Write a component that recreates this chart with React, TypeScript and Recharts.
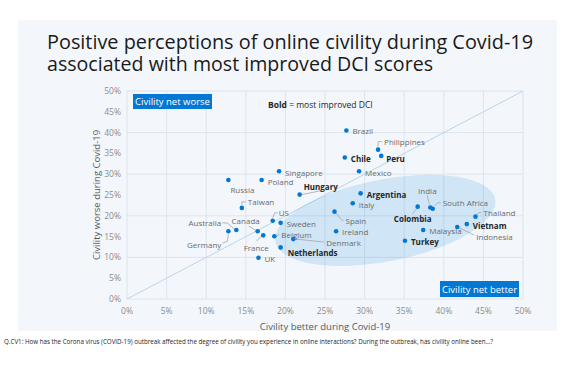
import React from 'react';
import { ScatterChart, Scatter, XAxis, YAxis, CartesianGrid, ReferenceLine, ReferenceDot } from 'recharts';

const countries = [
  'Brazil', 'Philippines', 'Chile', 'Peru', 'Mexico', 'Argentina', 'Italy', 'India',
  'South Africa', 'Colombia', 'Thailand', 'Vietnam', 'Indonesia', 'Malaysia', 'Turkey',
  'Spain', 'Ireland', 'Denmark', 'Netherlands', 'Belgium', 'Sweden', 'US', 'Canada',
  'France', 'Australia', 'Germany', 'UK', 'Taiwan', 'Russia', 'Poland', 'Singapore', 'Hungary',
];
const civilityBetter = [
  27.7, 31.7, 27.5, 32.1, 29.3, 29.5, 28.5, 38.3,
  38.6, 36.7, 44.0, 42.9, 41.7, 37.4, 35.1,
  26.2, 26.4, 21.0, 19.4, 18.6, 19.4, 18.4, 16.5,
  17.2, 13.8, 12.8, 16.6, 14.5, 12.8, 17.0, 19.2, 21.8,
];
const civilityWorse = [
  40.5, 35.9, 34.0, 34.4, 30.7, 25.4, 23.0, 22.0,
  21.7, 22.2, 19.8, 18.0, 17.3, 16.6, 14.0,
  21.0, 16.3, 14.4, 12.4, 15.1, 18.3, 18.8, 16.3,
  15.3, 16.6, 16.3, 9.9, 21.9, 28.6, 28.6, 30.7, 25.1,
];
const boldCountries = ['Chile', 'Peru', 'Hungary', 'Argentina', 'Colombia', 'Vietnam', 'Turkey', 'Netherlands'];
const axisTicks = [0, 5, 10, 15, 20, 25, 30, 35, 40, 45, 50];

const data = countries.map((name, i) => ({
  name,
  x: civilityBetter[i],
  y: civilityWorse[i],
  bold: boldCountries.includes(name),
}));

type LabelLayout = { dx: number; dy: number; anchor?: 'start' | 'middle' | 'end'; leader?: number[][] };
const LABEL_LAYOUT: Record<string, LabelLayout> = {
  Brazil: { dx: 6, dy: 0 },
  Philippines: { dx: 6, dy: -8, leader: [[0, -3], [0, -8], [4, -8]] },
  Chile: { dx: 6, dy: 1 },
  Peru: { dx: 5, dy: 3 },
  Mexico: { dx: 6, dy: 1 },
  Argentina: { dx: 6, dy: 1 },
  Italy: { dx: 6, dy: 1 },
  India: { dx: -3, dy: -17, anchor: 'middle', leader: [[-3, -12], [-1, -3]] },
  'South Africa': { dx: 10, dy: -6, leader: [[2, -3], [5, -6], [8, -6]] },
  Colombia: { dx: -5, dy: 12, anchor: 'middle', leader: [[-1, 2], [-5, 7]] },
  Thailand: { dx: 8, dy: -4, leader: [[1, -1], [3, -4], [6, -4]] },
  Vietnam: { dx: 6, dy: 1 },
  Indonesia: { dx: 19, dy: 9, leader: [[2, 1], [13, 6], [17, 8]] },
  Malaysia: { dx: 6, dy: 1 },
  Turkey: { dx: 6, dy: 1 },
  Spain: { dx: 11, dy: 9, leader: [[1, 1], [7, 8], [9, 9]] },
  Ireland: { dx: 6, dy: 0 },
  Denmark: { dx: 33, dy: 3, leader: [[3, 0], [31, 3]] },
  Netherlands: { dx: 7, dy: 5 },
  Belgium: { dx: 7, dy: -2, leader: [[2, 0], [5, -2]] },
  Sweden: { dx: 6, dy: 1 },
  US: { dx: 6, dy: -8, leader: [[0, -3], [2, -8], [5, -8]] },
  Canada: { dx: -12, dy: -11, anchor: 'middle', leader: [[-2, -1], [-9, -5]] },
  France: { dx: -7, dy: 12, anchor: 'middle', leader: [[-2, 1], [-7, 6]] },
  Australia: { dx: -15, dy: -7, anchor: 'end', leader: [[-14, -7], [-9, -7], [-2, -1]] },
  Germany: { dx: -7, dy: 13, anchor: 'end', leader: [[-6, 12], [-1, 10], [0, 3]] },
  UK: { dx: 6, dy: 1 },
  Taiwan: { dx: 6, dy: -6, leader: [[0, -3], [0, -6], [4, -6]] },
  Russia: { dx: 14, dy: 9, anchor: 'middle' },
  Poland: { dx: 6, dy: 1 },
  Singapore: { dx: 6, dy: 1 },
  Hungary: { dx: 4, dy: -8, leader: [[2, 0], [22, -4]] },
};

const FONT = '"Open Sans", "Noto Sans", sans-serif';

const renderPoint = (props: any) => {
  const { cx, cy, payload } = props;
  if (cx == null || cy == null) return <g />;
  const l = LABEL_LAYOUT[payload.name] || { dx: 6, dy: 0 };
  return (
    <g>
      {l.leader && (
        <polyline
          points={l.leader.map(([a, b]) => `${cx + a},${cy + b}`).join(' ')}
          fill="none"
          stroke="#a6a6a6"
          strokeWidth={0.8}
        />
      )}
      <circle cx={cx} cy={cy} r={2.3} fill="#0078d4" />
      <text
        x={cx + l.dx}
        y={cy + l.dy}
        textAnchor={l.anchor || 'start'}
        dominantBaseline="central"
        fontSize={8}
        fontFamily={FONT}
        fontWeight={payload.bold ? 700 : 400}
        fill={payload.bold ? '#262626' : '#6b6b6b'}
      >
        {payload.name}
      </text>
    </g>
  );
};

const renderEllipse = (props: any) => {
  const { cx, cy } = props;
  if (cx == null || cy == null) return <g />;
  return (
    <ellipse
      cx={cx}
      cy={cy}
      rx={112}
      ry={41}
      transform={`rotate(-11 ${cx} ${cy})`}
      fill="#0078d4"
      fillOpacity={0.14}
      stroke="none"
    />
  );
};

export default function App() {
  return (
    <div style={{ position: 'absolute', left: 0, top: 0, width: 580, height: 370, background: '#ffffff' }}>
      <div style={{ position: 'absolute', left: 18, top: 20, width: 539, height: 311, background: '#f3f7fc' }} />
      <div style={{ position: 'absolute', left: 0, top: 0 }}>
        <ScatterChart width={580} height={370} margin={{ top: 91, right: 57, bottom: 41, left: 0 }}>
          <CartesianGrid stroke="#dde4ec" strokeWidth={1} />
          <ReferenceDot x={32.6} y={18.9} r={1} shape={renderEllipse} ifOverflow="visible" />
          <ReferenceLine
            segment={[{ x: 0, y: 0 }, { x: 50, y: 50 }]}
            stroke="#b9d5ea"
            strokeWidth={1}
            ifOverflow="visible"
          />
          <XAxis
            type="number"
            dataKey="x"
            domain={[0, 50]}
            ticks={axisTicks}
            tickFormatter={(v: number) => `${v}%`}
            axisLine={false}
            tickLine={false}
            tickSize={0}
            tickMargin={9}
            height={30}
            tick={{ fontSize: 8.5, fill: '#8c8c8c', fontFamily: FONT }}
          />
          <YAxis
            type="number"
            dataKey="y"
            domain={[0, 50]}
            ticks={axisTicks}
            tickFormatter={(v: number) => `${v}%`}
            axisLine={false}
            tickLine={false}
            tickSize={0}
            tickMargin={6}
            width={127}
            tick={{ fontSize: 8.5, fill: '#8c8c8c', fontFamily: FONT }}
          />
          <Scatter data={data} shape={renderPoint} isAnimationActive={false} />
        </ScatterChart>
      </div>
      <svg
        width={580}
        height={370}
        style={{ position: 'absolute', left: 0, top: 0, pointerEvents: 'none' }}
        fontFamily={FONT}
      >
        <text x={47} y={49} fontSize={19.5} fill="#1a1a1a" textLength={486} lengthAdjust="spacingAndGlyphs">
          Positive perceptions of online civility during Covid-19
        </text>
        <text x={47} y={71} fontSize={19.5} fill="#1a1a1a" textLength={386} lengthAdjust="spacingAndGlyphs">
          associated with most improved DCI scores
        </text>
        <rect x={133} y={94} width={79} height={15} fill="#0078d4" />
        <text x={172.5} y={101.5} fontSize={9.5} fill="#ffffff" textAnchor="middle" dominantBaseline="central">
          Civility net worse
        </text>
        <rect x={440} y={281} width={79} height={16} fill="#0078d4" />
        <text x={479.5} y={289} fontSize={9.5} fill="#ffffff" textAnchor="middle" dominantBaseline="central">
          Civility net better
        </text>
        <text x={268} y={103.5} fontSize={8.5} fill="#262626" dominantBaseline="central">
          <tspan fontWeight={700}>Bold</tspan>
          <tspan> = most improved DCI</tspan>
        </text>
        <text x={325} y={326} fontSize={9.5} fill="#595959" textAnchor="middle" dominantBaseline="central">
          Civility better during Covid-19
        </text>
        <text
          x={96}
          y={195}
          fontSize={9.5}
          fill="#595959"
          textAnchor="middle"
          dominantBaseline="central"
          transform="rotate(-90 96 195)"
        >
          Civility worse during Covid-19
        </text>
        <text x={4} y={341} fontSize={6.2} fill="#262626" dominantBaseline="central" textLength={489} lengthAdjust="spacingAndGlyphs">
          Q.CV1:  How has the Corona virus (COVID-19) outbreak affected the degree of civility you experience in online interactions? During the outbreak, has civility online been…?
        </text>
      </svg>
    </div>
  );
}
